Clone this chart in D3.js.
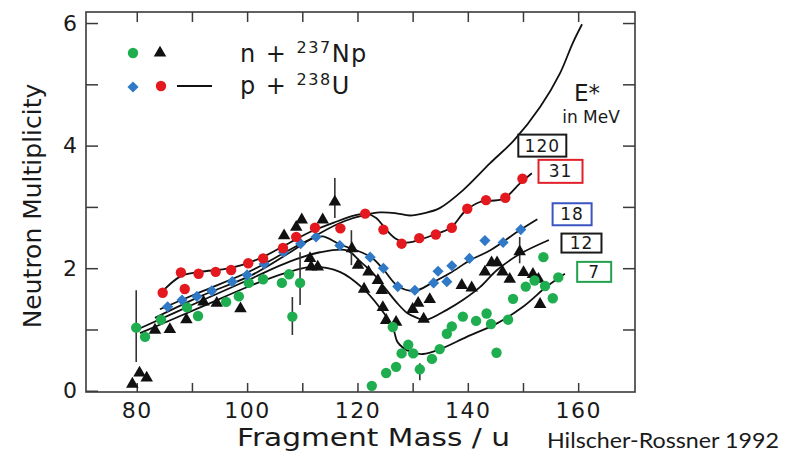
<!DOCTYPE html>
<html>
<head>
<meta charset="utf-8">
<script src="https://cdn.jsdelivr.net/npm/d3@7"></script>
<style>
  html, body { margin: 0; padding: 0; background: #fff; }
  svg { display: block; }
</style>
</head>
<body>
<svg id="chart" width="787" height="453"></svg>
<script>
// ---- data: [fragment mass (u), neutron multiplicity] ----
// p + 238U, E* = 31 MeV (red circles)
const p238U_31 = [[84.7,1.60],[88.0,1.93],[88.7,1.66],[91.2,1.91],[94.3,1.94],[97.1,1.97],[100.2,2.08],
  [102.9,2.16],[106.5,2.33],[108.9,2.51],[112.3,2.66],[116.9,2.65],[121.4,2.89],[124.7,2.63],[128.0,2.40],
  [131.2,2.49],[134.2,2.55],[137.1,2.66],[139.9,2.97],[143.3,3.11],[146.8,3.15],[149.9,3.46]];
// p + 238U, E* = 18 MeV (blue diamonds)
const p238U_18 = [[85.6,1.37],[88.2,1.48],[90.9,1.54],[93.6,1.63],[97.3,1.78],[100.0,1.89],[103.1,2.07],
  [106.6,2.26],[109.7,2.40],[112.5,2.51],[116.8,2.37],[122.3,2.18],[124.7,2.00],[127.3,1.70],[130.4,1.64],
  [133.8,1.76],[134.6,1.95],[136.2,1.78],[137.1,2.04],[140.3,2.16],[143.1,2.45],[146.4,2.42],[149.6,2.63]];
// n + 237Np, E* = 7 MeV (green circles)
const n237Np_7 = [[79.9,1.03],[81.5,0.88],[84.4,1.16],[89.1,1.36],[91.1,1.22],[96.2,1.45],[98.5,1.54],
  [100.3,1.76],[102.9,1.82],[106.3,1.76],[107.6,1.90],[109.6,1.76],[108.2,1.21],[122.6,0.08],[125.2,0.29],
  [127.0,0.39],[126.4,1.04],[128.0,0.61],[129.2,0.75],[130.1,0.61],[131.3,0.35],[133.5,0.52],[134.9,0.68],
  [136.2,0.93],[137.1,1.05],[139.1,1.21],[141.5,1.14],[143.4,1.26],[144.2,1.09],[145.2,0.62],[147.3,1.16],
  [148.2,1.50],[150.5,1.70],[152.1,1.80],[154.0,1.71],[153.7,2.18],[155.4,1.51],[156.4,1.85]];
// n + 237Np, E* = 12 MeV (black triangles)
const n237Np_12 = [[79.2,0.11],[80.5,0.29],[81.8,0.21],[83.3,0.99],[86.0,1.00],[89.0,1.16],[92.1,1.45],
  [94.5,1.43],[98.8,1.34],[106.7,2.53],[108.9,2.67],[109.9,2.79],[113.7,2.79],[115.9,3.08],[111.4,2.16],
  [111.6,2.02],[112.8,2.02],[119.0,2.32],[120.1,2.05],[122.0,1.94],[123.7,1.80],[121.2,1.66],[124.4,1.64],
  [124.6,1.36],[125.2,1.15],[127.0,1.12],[130.0,1.33],[131.0,1.43],[133.1,1.49],[132.0,1.17],[138.9,1.72],
  [140.7,1.68],[143.1,1.94],[144.3,2.09],[145.3,2.09],[146.3,1.94],[147.6,1.82],[149.4,2.27],[150.1,1.93],
  [151.8,1.90],[152.8,1.82],[153.1,1.41]];
// error bars: [mass, low, high]
const errorBars = [[79.9,0.47,1.64],[108.2,0.91,1.53],[109.6,1.40,2.26],[115.9,2.82,3.47],
  [118.9,2.05,2.62],[131.3,0.17,0.45],[149.4,2.08,2.51]];

// calculated curves, one per excitation energy
const curve120 = [[83.3,1.19],[91.5,1.54],[101.1,1.90],[107.8,2.26],[113.2,2.57],[117.7,2.77],[121.4,2.87],
  [124.1,2.91],[126.8,2.90],[129.5,2.86],[132.2,2.90],[134.9,2.98],[139.1,3.27],[144.0,3.71],[148.4,4.09],
  [153.1,4.63],[156.7,5.18],[159.0,5.67],[160.7,5.98]];
const curve31 = [[84.2,1.58],[88.0,1.87],[91.5,1.94],[96.9,2.00],[102.3,2.16],[107.8,2.42],[111.4,2.59],
  [115.9,2.75],[119.5,2.86],[121.5,2.89],[123.4,2.82],[125.0,2.65],[126.8,2.49],[128.6,2.42],[130.4,2.44],
  [133.7,2.54],[136.9,2.66],[139.5,2.93],[142.2,3.08],[146.4,3.13],[149.4,3.38],[151.6,3.55]];
const curve18 = [[84.2,1.33],[91.5,1.61],[100.5,1.95],[106.9,2.26],[110.5,2.43],[113.6,2.52],[116.8,2.39],
  [122.3,2.19],[124.7,1.98],[127.3,1.71],[130.4,1.63],[133.7,1.77],[136.8,1.92],[140.4,2.13],[144.0,2.29],
  [149.4,2.62],[152.6,2.80]];
const curve12 = [[80.6,1.02],[91.5,1.46],[100.5,1.82],[107.8,2.11],[113.2,2.26],[118.1,2.29],[120.5,2.11],
  [122.8,1.92],[124.6,1.72],[127.2,1.43],[129.0,1.27],[130.8,1.19],[132.2,1.15],[136.2,1.32],[139.1,1.48],
  [142.2,1.69],[145.3,1.97],[149.4,2.23],[154.7,2.46]];
const curve7 = [[80.6,0.94],[91.5,1.36],[100.5,1.71],[106.9,1.92],[111.9,2.02],[116.8,1.94],[121.0,1.67],
  [124.1,1.35],[126.4,1.04],[127.3,0.79],[129.5,0.64],[131.9,0.60],[135.0,0.68],[139.8,0.88],[145.3,1.10],
  [150.0,1.37],[154.3,1.70],[157.6,1.91]];

// excitation-energy labels: [E* in MeV, box centre mass, box centre multiplicity]
const energyLabels = [["120",153.5,4.00],["31",156.8,3.58],["18",158.9,2.88],["12",160.6,2.41],["7",162.9,1.94]];
const energyColors = ["#1a1a1a","#e2202a","#3a55c2","#1a1a1a","#22a04d"];
const energyBoxW = [48,44,39,40,34];
const energyBoxH = [22,23,22,19,20];

const yTicks = [0,1,2,3,4,5,6];
const xTicks = [80,90,100,110,120,130,140,150,160];

// ---- styles ----
const RED = "#e3191f", BLUE = "#2f79c6", GREEN = "#1fae4f", BLACK = "#111";
const FONT = "'DejaVu Sans', Verdana, sans-serif";

const svg = d3.select("#chart");
const L = 86, R = 635, T = 12, B = 392;
const x = d3.scaleLinear().domain([70.8, 170.3]).range([L, R]);
const y = d3.scaleLinear().domain([-0.02, 6.18]).range([B, T]);

// frame
svg.append("rect").attr("x", L).attr("y", T).attr("width", R - L).attr("height", B - T)
  .attr("fill", "none").attr("stroke", "#3a3a3a").attr("stroke-width", 1.6);

// axes with inward ticks
function styleAxis(g) {
  g.select(".domain").remove();
  g.selectAll(".tick line").attr("stroke", "#3a3a3a").attr("stroke-width", 1.5);
  g.selectAll(".tick text").attr("fill", "#1a1a1a").style("font-family", FONT);
}
svg.append("g").attr("transform", `translate(0,${B})`)
  .call(d3.axisBottom(x).tickValues(xTicks).tickSize(-9).tickPadding(10)
    .tickFormat(d => d % 20 === 0 ? d : ""))
  .call(styleAxis)
  .call(g => g.selectAll(".tick text").style("font-size", "22px").attr("letter-spacing", "1.5px"));
svg.append("g").attr("transform", `translate(0,${T})`)
  .call(d3.axisTop(x).tickValues(xTicks).tickSize(-10).tickFormat(""))
  .call(styleAxis);
svg.append("g").attr("transform", `translate(${L},0)`)
  .call(d3.axisLeft(y).tickValues(yTicks).tickSize(-12).tickPadding(9)
    .tickFormat(d => d % 2 === 0 ? d : ""))
  .call(styleAxis)
  .call(g => g.selectAll(".tick text").style("font-size", "22px"));
svg.append("g").attr("transform", `translate(${R},0)`)
  .call(d3.axisRight(y).tickValues(yTicks.filter(d => d > 0)).tickSize(-12).tickFormat(""))
  .call(styleAxis);

// axis titles
svg.append("text").attr("transform", `translate(41,${(T + B) / 2 + 4}) rotate(-90)`)
  .attr("text-anchor", "middle").style("font-family", FONT).style("font-size", "25px")
  .attr("fill", "#1a1a1a").text("Neutron Multiplicity");
svg.append("text").attr("x", 237).attr("y", 446)
  .style("font-family", FONT).style("font-size", "25px").attr("fill", "#1a1a1a")
  .attr("textLength", 273).attr("lengthAdjust", "spacingAndGlyphs")
  .text("Fragment Mass / u");
svg.append("text").attr("x", 547).attr("y", 448)
  .style("font-family", "Lato, 'Open Sans', sans-serif").style("font-size", "21px").attr("fill", "#1a1a1a")
  .attr("textLength", 232).attr("lengthAdjust", "spacingAndGlyphs")
  .text("Hilscher-Rossner 1992");

// curves
const line = d3.line().x(d => x(d[0])).y(d => y(d[1])).curve(d3.curveCatmullRom.alpha(0.5));
const plot = svg.append("g");
[curve120, curve31, curve18, curve12, curve7].forEach(c => {
  plot.append("path").attr("d", line(c)).attr("fill", "none")
    .attr("stroke", BLACK).attr("stroke-width", 1.8);
});

// error bars
plot.selectAll("line.err").data(errorBars).join("line").attr("class", "err")
  .attr("x1", d => x(d[0])).attr("x2", d => x(d[0]))
  .attr("y1", d => y(d[1])).attr("y2", d => y(d[2]))
  .attr("stroke", "#333").attr("stroke-width", 1.6);

// markers
const tri = d3.symbol().type(d3.symbolTriangle).size(68);
const dia = d3.symbol().type(d3.symbolSquare).size(62);
plot.selectAll("path.tri").data(n237Np_12).join("path").attr("class", "tri")
  .attr("d", tri).attr("transform", d => `translate(${x(d[0])},${y(d[1])})`).attr("fill", BLACK);
plot.selectAll("circle.g").data(n237Np_7).join("circle").attr("class", "g")
  .attr("cx", d => x(d[0])).attr("cy", d => y(d[1])).attr("r", 5.2).attr("fill", GREEN);
plot.selectAll("path.dia").data(p238U_18).join("path").attr("class", "dia")
  .attr("d", dia).attr("transform", d => `translate(${x(d[0])},${y(d[1])}) rotate(45)`).attr("fill", BLUE);
plot.selectAll("circle.r").data(p238U_31).join("circle").attr("class", "r")
  .attr("cx", d => x(d[0])).attr("cy", d => y(d[1])).attr("r", 5.2).attr("fill", RED);

// legend
const lg = svg.append("g");
lg.append("circle").attr("cx", 133).attr("cy", 53).attr("r", 5.2).attr("fill", GREEN);
lg.append("path").attr("d", tri).attr("transform", "translate(160,53)").attr("fill", BLACK);
lg.append("path").attr("d", dia).attr("transform", "translate(133,87) rotate(45)").attr("fill", BLUE);
lg.append("circle").attr("cx", 161).attr("cy", 86).attr("r", 5.2).attr("fill", RED);
lg.append("line").attr("x1", 177).attr("x2", 212).attr("y1", 86).attr("y2", 86)
  .attr("stroke", BLACK).attr("stroke-width", 2);
function legendText(yBase, pre, sup, post) {
  const t = lg.append("text").attr("x", 240).attr("y", yBase)
    .style("font-family", FONT).style("font-size", "24px").attr("fill", "#1a1a1a")
    .attr("letter-spacing", "1.5px");
  t.append("tspan").text(pre);
  t.append("tspan").attr("dy", -9).style("font-size", "16px").text(sup);
  t.append("tspan").attr("dy", 9).text(post);
}
legendText(62, "n + ", "237", "Np");
legendText(94, "p + ", "238", "U");

// E* annotation
svg.append("text").attr("x", 587).attr("y", 101).attr("text-anchor", "middle")
  .style("font-family", FONT).style("font-size", "23px").attr("fill", "#1a1a1a").text("E*");
svg.append("text").attr("x", 591).attr("y", 123).attr("text-anchor", "middle")
  .style("font-family", FONT).style("font-size", "17px").attr("fill", "#1a1a1a").text("in MeV");

const eg = svg.append("g").selectAll("g").data(energyLabels).join("g")
  .attr("transform", d => `translate(${x(d[1])},${y(d[2])})`);
eg.append("rect")
  .attr("x", (d, i) => -energyBoxW[i] / 2).attr("y", (d, i) => -energyBoxH[i] / 2)
  .attr("width", (d, i) => energyBoxW[i]).attr("height", (d, i) => energyBoxH[i])
  .attr("fill", "#fff").attr("stroke", (d, i) => energyColors[i]).attr("stroke-width", 2);
eg.append("text").attr("text-anchor", "middle").attr("dy", "0.36em")
  .style("font-family", FONT).style("font-size", "17px").attr("fill", "#1a1a1a")
  .attr("letter-spacing", "1px").text(d => d[0]);
</script>
</body>
</html>
